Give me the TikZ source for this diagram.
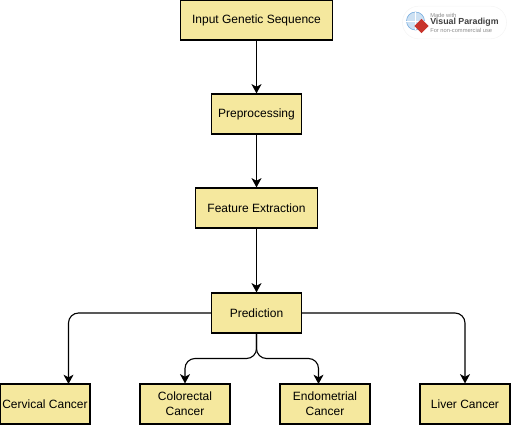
\documentclass[tikz,border=0pt]{standalone}
\usepackage{fontspec}
\setmainfont{Liberation Sans}
\usetikzlibrary{arrows.meta,shapes.geometric}
\definecolor{boxfill}{HTML}{F5E89E}
\definecolor{globeblue}{HTML}{6FA8DC}
\definecolor{badgered}{HTML}{C8342B}
\definecolor{badgegrey}{HTML}{8C8C8C}

\begin{document}
\begin{tikzpicture}[x=0.75pt,y=-0.75pt,->,>={Stealth[length=7pt,width=7.5pt,inset=2pt]},node distance=70.5pt,
		line width=0.85pt,box node/.style={rectangle,draw,fill=boxfill,font=\fontsize{9}{11.25}\selectfont,
		minimum height=30pt,inner sep=0pt,align=center},
		line node/.style={inner sep=0pt,anchor=west,text=badgegrey,font=\fontsize{4.3}{5}\selectfont}]
		\useasboundingbox (0,0) rectangle (511,425);
		\node[box node,minimum width=114pt] (input) at (256.5,20) {Input Genetic Sequence};
		\node[box node,minimum width=67pt] (pre) [below of=input] {Preprocessing};
		\node[box node,minimum width=91pt] (feature) [below of=pre] {Feature Extraction};
		\node[box node,minimum width=67pt] (prediction) [below of=feature,node distance=78.75pt] {Prediction};
		\node[box node,minimum width=67.5pt] (cervical) at (45,404) {Cervical Cancer};
		\node[box node,minimum width=67.5pt] (colorectal) at (185,404) {Colorectal\\Cancer};
		\node[box node,minimum width=67.5pt] (endometrial) at (325,404) {Endometrial\\Cancer};
		\node[box node,minimum width=67.5pt] (liver) at (465,404) {Liver Cancer};
		\coordinate (bus) at (256.5,358.5);
		\coordinate (cervicalin) at (68.5,384);
		\coordinate (endometrialin) at (318.5,384);
		\draw (input) -- (pre);
		\draw (pre) -- (feature);
		\draw (feature) -- (prediction);
		\draw[rounded corners=7.5pt] (prediction.west) -| (cervicalin);
		\draw[rounded corners=7.5pt] (prediction.east) -| (liver.north);
		\draw[rounded corners=7.5pt] (prediction.south) |- (colorectal.north |- bus) -- (colorectal.north);
		\draw[rounded corners=7.5pt] (prediction.south) |- (endometrialin |- bus) -- (endometrialin);
		% badge
		\begin{scope}[-,thin]
		\node[draw=black!4,fill=white,rounded corners=12pt,minimum width=78pt,minimum height=24.5pt,inner sep=0pt] (badge) at (454.5,22.5) {};
		\node[circle,draw=globeblue,fill=globeblue!35,minimum size=13.5pt,inner sep=0pt] (globe) at (415.5,21) {};
		\draw[white] (globe.north) -- (globe.south);
		\draw[white] (globe.west) -- (globe.east);
		\node[diamond,aspect=1,fill=badgered,minimum size=11pt,inner sep=0pt] (mark) at (421.5,26) {};
		\node[line node] (made) at (430,15) {Made with};
		\node[line node,text=black!75,font=\bfseries\fontsize{6.6}{8}\selectfont] (vp) at (430,22) {Visual Paradigm};
		\node[line node] (use) at (430,30) {For non-commercial use};
		\end{scope}
		\end{tikzpicture}
\end{document}
